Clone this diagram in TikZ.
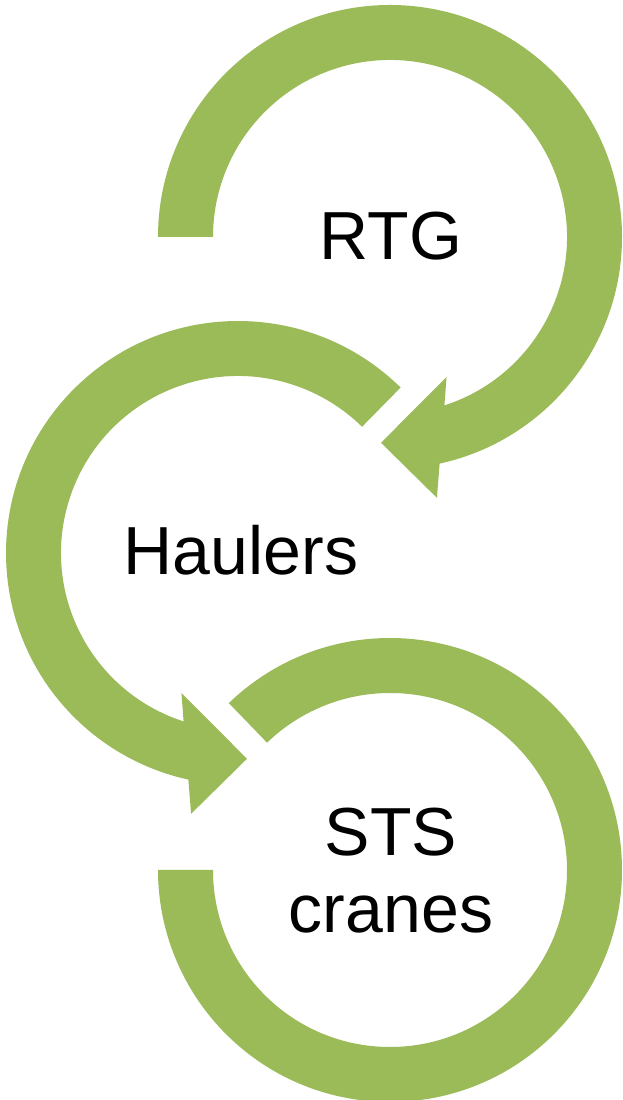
\documentclass[tikz,border=0pt]{standalone}
\usepackage{fontspec}
\setmainfont{Liberation Sans}
\definecolor{arcgreen}{HTML}{9BBB59}
\tikzset{
  band/.style={fill=arcgreen, draw=none},
  lbl/.style={font=\fontsize{68}{77}\selectfont, text=black, inner sep=0pt, anchor=base, align=center}
}
\begin{document}
\begin{tikzpicture}[x=1pt,y=1pt]
\useasboundingbox (0,0) rectangle (623,1100);
\coordinate (A) at (390,863);
\coordinate (B) at (238,547);
\coordinate (C) at (390,230);
% top arc (RTG), clockwise, arrow head at bottom
\begin{scope}[shift={(A)}]
\fill[band] (180:232) arc[start angle=180, end angle=-77.65, radius=232]
  -- (-79.8:265) -- (-92.5:206) -- (-68:151) -- (-72.1:177)
  arc[start angle=-72.1, end angle=180, radius=177] -- cycle;
\end{scope}
% middle arc (Haulers), counter-clockwise, arrow head at bottom
\begin{scope}[shift={(B)}]
\fill[band] (45.5:232) arc[start angle=45.5, end angle=257.65, radius=232]
  -- (259.8:265) -- (272.5:206) -- (248:151) -- (252.1:177)
  arc[start angle=252.1, end angle=45.5, radius=177] -- cycle;
\end{scope}
% bottom arc (STS cranes), clockwise, plain ends
\begin{scope}[shift={(C)}]
\fill[band] (134:232) arc[start angle=134, end angle=-180, radius=232]
  -- (180:177) arc[start angle=-180, end angle=134, radius=177] -- cycle;
\end{scope}
\node[lbl] (rtg) at (391,840) {RTG};
\node[lbl] (haul) at (241,525) {Haulers};
\node[lbl] (sts) at (391,167) {STS\\cranes};
\end{tikzpicture}
\end{document}
